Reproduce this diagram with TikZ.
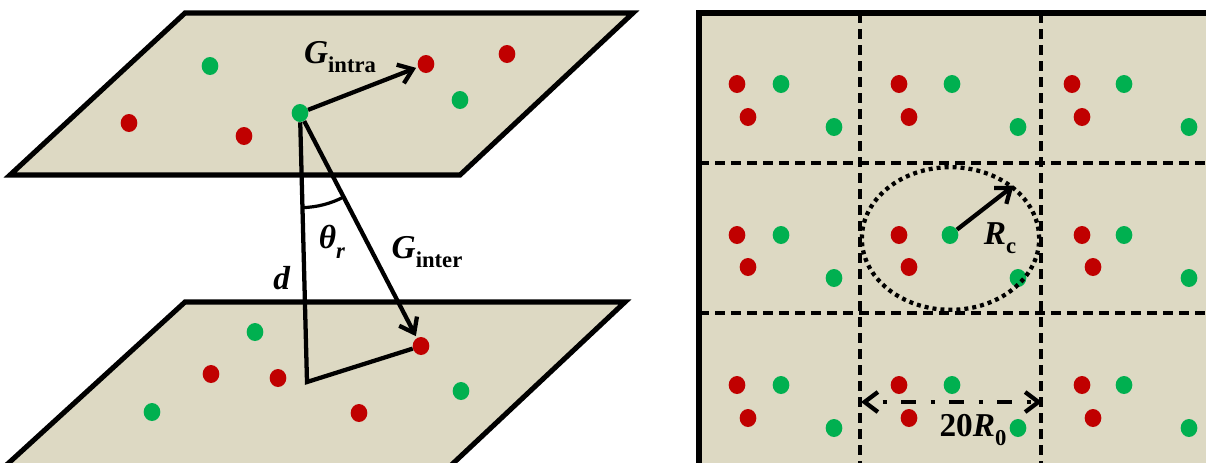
\documentclass[tikz,border=0pt]{standalone}
\usepackage{fontspec}
\setmainfont{Liberation Serif}
\usepackage{xcolor}
\definecolor{sand}{HTML}{DDD9C3}
\definecolor{dred}{HTML}{C00000}
\definecolor{lgreen}{HTML}{00B050}
\usepackage{tikz}
\usetikzlibrary{arrows.meta,shapes,angles,calc}
\newcommand{\vsub}[2]{\textbf{\textit{#1}}\raisebox{-0.28em}{\fontsize{17}{17}\selectfont\textbf{#2}}}

\begin{document}
\begin{tikzpicture}[
  x=0.75pt,y=-0.75pt,
  plane/.style={draw,fill=sand,line width=3.8pt},
  rdot/.style={ellipse,fill=dred,inner sep=0pt,minimum width=12.5pt,minimum height=13.5pt},
  gdot/.style={ellipse,fill=lgreen,inner sep=0pt,minimum width=12.5pt,minimum height=13.5pt},
  barb/.tip={Straight Barb[length=10pt,width=15pt,line width=3.2pt]},
  vec/.style={-barb,line width=3.2pt,shorten >=1.5pt},
  leg/.style={line width=3.2pt},
  cellsep/.style={dash pattern=on 7.5pt off 4.5pt,line width=3.4pt},
  lab/.style={font=\fontsize{25}{28}\selectfont,inner sep=0pt}
]
  \useasboundingbox (0,0) rectangle (1206,462);
  \clip (0,0) rectangle (1206,462);

  % Planes
  \draw[plane] (185,13) -- (633,13) -- (460,175) -- (10,175) -- cycle;
  \draw[plane] (185,302) -- (625,302) -- (446,470) -- (1,470) -- cycle;

  % Upper plane
  \node[gdot] (u1) at (210,66) {};
  \node[rdot] (u2) at (426,64) {};
  \node[rdot] (u3) at (507,54) {};
  \node[gdot] (u4) at (460,100) {};
  \node[gdot] (src) at (300,113) {};
  \node[rdot] (u5) at (129,123) {};
  \node[rdot] (u6) at (244,136) {};

  % Lower plane
  \node[gdot] (l1) at (255,332) {};
  \node[rdot] (dst) at (421,346) {};
  \node[rdot] (l2) at (211,374) {};
  \node[rdot] (l3) at (278,378) {};
  \node[gdot] (l4) at (461,391) {};
  \node[gdot] (l5) at (152,412) {};
  \node[rdot] (l6) at (359,413) {};
  \coordinate (foot) at (307,382);

  % Vectors
  \draw[vec] (src) -- (u2);
  \draw[vec] (src) -- (dst);
  \draw[leg] (src) -- (foot) -- (dst);
  \pic[draw,line width=2.4pt,angle radius=71pt] {angle=foot--src--dst};

  \node[lab] (gintra) at (340,57) {\vsub{G}{intra}};
  \node[lab] (ginter) at (427,252) {\vsub{G}{inter}};
  \node[lab] (theta) at (332,242) {\vsub{θ}{\itshape r}};
  \node[lab] (dlab) at (282,278) {\textbf{\textit{d}}};

  % Cells
  \draw[plane] (699,13) rectangle (1240,490);
  \draw[cellsep] (860,13) -- (860,470);
  \draw[cellsep] (1041,13) -- (1041,470);
  \draw[cellsep] (699,163) -- (1215,163);
  \draw[cellsep] (699,313) -- (1215,313);

  % Row 1
  \node[rdot] (a1) at (737,84) {}; \node[gdot] (a2) at (781,84) {}; \node[rdot] (a3) at (748,117) {}; \node[gdot] (a4) at (834,127) {};
  \node[rdot] (b1) at (899,84) {}; \node[gdot] (b2) at (952,84) {}; \node[rdot] (b3) at (909,117) {}; \node[gdot] (b4) at (1018,127) {};
  \node[rdot] (c1) at (1072,84) {}; \node[gdot] (c2) at (1124,84) {}; \node[rdot] (c3) at (1082,117) {}; \node[gdot] (c4) at (1189,127) {};

  % Row 2
  \node[rdot] (d1) at (737,235) {}; \node[gdot] (d2) at (781,235) {}; \node[rdot] (d3) at (748,267) {}; \node[gdot] (d4) at (834,278) {};
  \node[rdot] (e1) at (899,235) {}; \node[gdot] (cen) at (950,235) {}; \node[rdot] (e3) at (909,267) {}; \node[gdot] (e4) at (1018,278) {};
  \node[rdot] (f1) at (1082,235) {}; \node[gdot] (f2) at (1124,235) {}; \node[rdot] (f3) at (1093,267) {}; \node[gdot] (f4) at (1189,278) {};

  % Row 3
  \node[rdot] (g1) at (737,385) {}; \node[gdot] (g2) at (781,385) {}; \node[rdot] (g3) at (748,418) {}; \node[gdot] (g4) at (834,428) {};
  \node[rdot] (h1) at (899,385) {}; \node[gdot] (h2) at (952,385) {}; \node[rdot] (h3) at (909,418) {}; \node[gdot] (h4) at (1018,428) {};
  \node[rdot] (k1) at (1082,385) {}; \node[gdot] (k2) at (1124,385) {}; \node[rdot] (k3) at (1093,418) {}; \node[gdot] (k4) at (1189,428) {};

  % Cutoff circle
  \node[ellipse,draw,line width=3.2pt,dash pattern=on 3pt off 3pt,inner sep=0pt,
        minimum width=133pt,minimum height=107pt] (rc) at (950.5,238.5) {};
  \draw[vec,shorten >=0pt] (cen) -- (rc.40);
  \node[lab] (rclab) at (1000,238) {\vsub{R}{c}};

  % Cell width
  \coordinate (wl) at (861,402);
  \coordinate (wr) at (1042,402);
  \draw[barb-barb,line width=3.2pt,dash pattern=on 3pt off 11pt on 11pt off 11pt,dash phase=-12pt] (wl) -- (wr);
  \node[lab] (wlab) at (973,430) {\textbf{20}\vsub{R}{0}};
\end{tikzpicture}
\end{document}
